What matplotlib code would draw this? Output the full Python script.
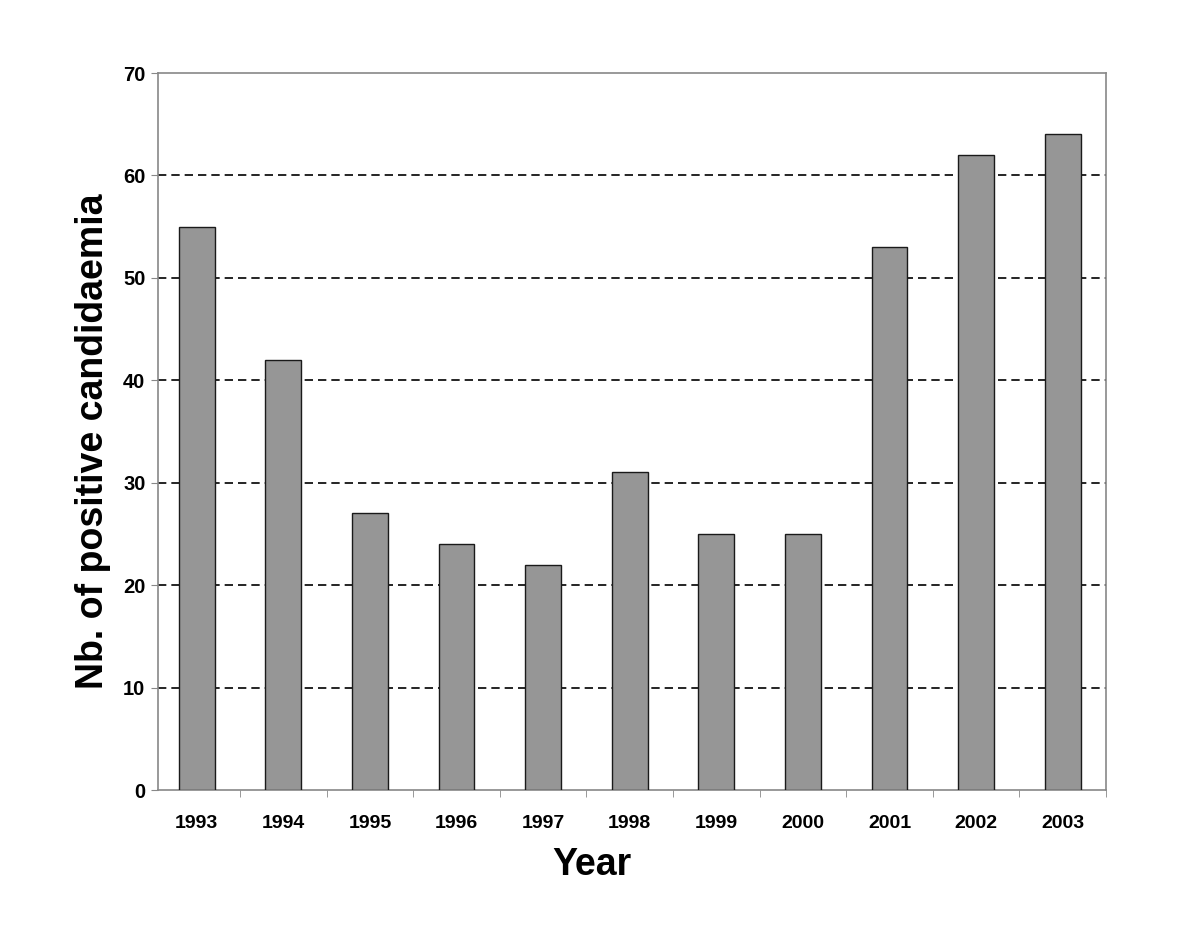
import numpy as np
import matplotlib.pyplot as plt

plt.rcParams['font.family'] = ['Liberation Sans', 'DejaVu Sans']

# 数据
years = ['1993', '1994', '1995', '1996', '1997', '1998', '1999', '2000', '2001', '2002', '2003']
counts = [55, 42, 27, 24, 22, 31, 25, 25, 53, 62, 64]
y_ticks = [0, 10, 20, 30, 40, 50, 60, 70]

fig = plt.figure(figsize=(12, 9.41), dpi=100)
ax = fig.add_axes([158 / 1200, 1 - 790 / 941, (1106 - 158) / 1200, (790 - 73) / 941])

x = np.arange(len(years))
ax.bar(x, counts, width=0.415, color='#969696', edgecolor='#1a1a1a', linewidth=1.0, zorder=3)

# 虚线网格（不含0和70）
for v in y_ticks[1:-1]:
    ax.axhline(v, color='black', linestyle=(0, (5, 3)), linewidth=1.2, zorder=1)

ax.set_xlim(-0.447, len(years) - 0.5)
ax.set_ylim(0, 70)
ax.set_yticks(y_ticks)
ax.set_yticklabels([str(v) for v in y_ticks], fontsize=14.5, fontweight='bold')

ax.set_xticks(x)
ax.set_xticklabels(years, fontsize=14, fontweight='bold')
ax.set_xticks(np.arange(1, len(years) + 1) - 0.5, minor=True)
ax.tick_params(axis='x', which='major', length=0, pad=18)
ax.tick_params(axis='x', which='minor', length=5, color='#888888', direction='out')
ax.tick_params(axis='y', length=5, color='#888888', direction='out', pad=4)

for s in ax.spines.values():
    s.set_color('#888888')
    s.set_linewidth(1.2)

ax.set_xlabel('Year', fontsize=27, fontweight='bold')
ax.set_ylabel('Nb. of positive candidaemia', fontsize=27, fontweight='bold')
ax.xaxis.set_label_coords(0.458, -0.104)
ax.xaxis.label.set_va('center')
ax.yaxis.set_label_coords(-0.069, 0.487)
ax.yaxis.label.set_va('center')

plt.savefig('out.png', dpi=100)
